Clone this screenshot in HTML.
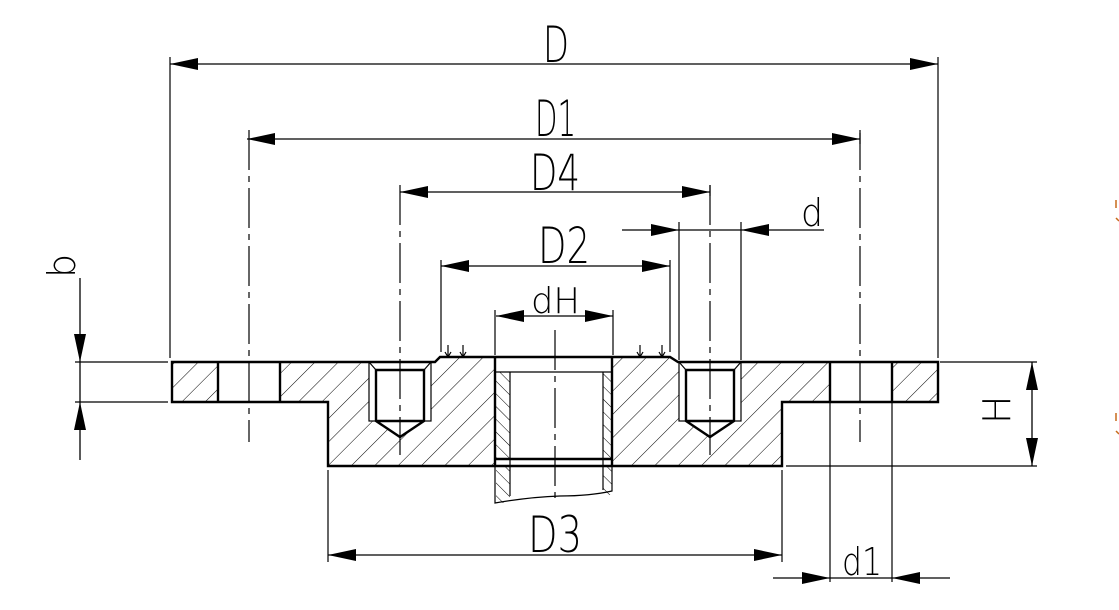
<!DOCTYPE html>
<html><head><meta charset="utf-8"><style>
html,body{margin:0;padding:0;background:#fff;width:1119px;height:610px;overflow:hidden}
svg text{font-family:"DejaVu Sans","Liberation Sans",sans-serif;font-weight:200;fill:#000}
</style></head><body>
<svg width="1119" height="610" viewBox="0 0 1119 610" xmlns="http://www.w3.org/2000/svg">
<defs>
<pattern id="h1" width="16.5" height="16.5" patternUnits="userSpaceOnUse" patternTransform="rotate(45)">
<line x1="0" y1="0" x2="0" y2="16.5" stroke="#000" stroke-width="1"/></pattern>
<pattern id="h2" width="9" height="9" patternUnits="userSpaceOnUse" patternTransform="rotate(-45)">
<line x1="0" y1="0" x2="0" y2="9" stroke="#000" stroke-width="1"/></pattern>
<marker id="a" viewBox="0 0 28 12" refX="28" refY="6" markerWidth="28" markerHeight="12" markerUnits="userSpaceOnUse" orient="auto-start-reverse">
<path d="M0,0 L28,6 L0,12 z" fill="#000"/></marker>
</defs>

<path d="M172,362 L435,362 L440,357 L670,357 L678,362 L938,362 L938,402 L782,402 L782,466 L328,466 L328,402 L172,402 Z" fill="url(#h1)"/>
<g fill="#fff">
<rect x="218" y="363" width="62" height="38"/>
<rect x="830" y="363" width="62" height="38"/>
<rect x="369" y="363" width="62" height="58"/>
<path d="M376,421 L400,437 L424,421Z"/>
<rect x="679" y="363" width="62" height="58"/>
<path d="M686,421 L710,437 L734,421Z"/>
<rect x="495" y="358" width="117" height="107"/>
</g>
<rect x="496" y="372" width="14" height="86" fill="url(#h2)"/>
<rect x="603" y="372" width="9" height="86" fill="url(#h2)"/>
<rect x="496" y="467" width="14" height="36" fill="url(#h2)"/>
<rect x="603" y="467" width="9" height="28" fill="url(#h2)"/>

<g stroke="#000" fill="none" stroke-width="2.4">
<path d="M172,362 L435,362 L440,357 L670,357 L678,362 L938,362 L938,402 L782,402 L782,466 L328,466 L328,402 L172,402 Z"/>
<line x1="218" y1="362" x2="218" y2="402"/><line x1="280" y1="362" x2="280" y2="402"/>
<line x1="830" y1="362" x2="830" y2="402"/><line x1="892" y1="362" x2="892" y2="402"/>
<path d="M376,370 L424,370 L424,421 L400,437 L376,421 Z M376,421 L424,421"/>
<path d="M686,370 L734,370 L734,421 L710,437 L686,421 Z M686,421 L734,421"/>
<line x1="495" y1="357" x2="495" y2="466"/><line x1="612" y1="357" x2="612" y2="466"/>
<line x1="495" y1="459" x2="612" y2="459"/>
</g>
<g stroke="#000" fill="none" stroke-width="1.2">
<rect x="369" y="362" width="62" height="59"/>
<rect x="679" y="362" width="62" height="59"/>
<line x1="369" y1="362" x2="376" y2="370"/><line x1="431" y1="362" x2="424" y2="370"/>
<line x1="679" y1="362" x2="686" y2="370"/><line x1="741" y1="362" x2="734" y2="370"/>
<line x1="510" y1="372" x2="510" y2="496"/><line x1="603" y1="372" x2="603" y2="490"/>
<line x1="495" y1="372" x2="612" y2="372"/>
<line x1="490" y1="466" x2="617" y2="466"/>
<path d="M495,466 L495,503 Q530,497 560,496 Q590,496 612,491 L612,466"/>
<path d="M448,345 L448,357 M445,352 L448,357 L451,352 M463,345 L463,357 M460,352 L463,357 L466,352"/>
<path d="M640,345 L640,357 M637,352 L640,357 L643,352 M662,345 L662,357 M659,352 L662,357 L665,352"/>
</g>

<g stroke="#000" stroke-width="1.2" fill="none" stroke-dasharray="40,6,6,6">
<line x1="249" y1="130" x2="249" y2="442"/>
<line x1="860" y1="130" x2="860" y2="442"/>
<line x1="400" y1="185" x2="400" y2="455"/>
<line x1="710" y1="185" x2="710" y2="455"/>
<line x1="555" y1="330" x2="555" y2="498"/>
</g>

<g stroke="#000" stroke-width="1.2" fill="none">
<line x1="170" y1="57" x2="170" y2="358"/><line x1="938" y1="57" x2="938" y2="358"/>
<line x1="441" y1="260" x2="441" y2="352"/><line x1="670" y1="260" x2="670" y2="352"/>
<line x1="495" y1="310" x2="495" y2="355"/><line x1="613" y1="310" x2="613" y2="355"/>
<line x1="679" y1="222" x2="679" y2="360"/><line x1="741" y1="222" x2="741" y2="360"/>
<line x1="328" y1="470" x2="328" y2="562"/><line x1="782" y1="470" x2="782" y2="562"/>
<line x1="830" y1="402" x2="830" y2="582"/><line x1="892" y1="402" x2="892" y2="582"/>
<line x1="940" y1="362" x2="1037" y2="362"/><line x1="786" y1="466" x2="1037" y2="466"/>
<line x1="75" y1="362" x2="168" y2="362"/><line x1="75" y1="402" x2="168" y2="402"/>
<line x1="710" y1="185" x2="710" y2="196"/><line x1="860" y1="133" x2="860" y2="144"/>
</g>

<g stroke="#000" stroke-width="1.3" fill="none">
<line x1="170" y1="64" x2="938" y2="64" marker-start="url(#a)" marker-end="url(#a)"/>
<line x1="247" y1="139" x2="860" y2="139" marker-start="url(#a)" marker-end="url(#a)"/>
<line x1="400" y1="192" x2="710" y2="192" marker-start="url(#a)" marker-end="url(#a)"/>
<line x1="441" y1="266" x2="670" y2="266" marker-start="url(#a)" marker-end="url(#a)"/>
<line x1="496" y1="316" x2="613" y2="316" marker-start="url(#a)" marker-end="url(#a)"/>
<line x1="328" y1="555" x2="782" y2="555" marker-start="url(#a)" marker-end="url(#a)"/>
<line x1="1032" y1="362" x2="1032" y2="466" marker-start="url(#a)" marker-end="url(#a)"/>
<line x1="622" y1="230" x2="679" y2="230" marker-end="url(#a)"/>
<line x1="824" y1="230" x2="741" y2="230" marker-end="url(#a)"/>
<line x1="679" y1="230" x2="741" y2="230"/>
<line x1="773" y1="578" x2="830" y2="578" marker-end="url(#a)"/>
<line x1="950" y1="578" x2="892" y2="578" marker-end="url(#a)"/>
<line x1="830" y1="578" x2="892" y2="578"/>
<line x1="80" y1="278" x2="80" y2="362" marker-end="url(#a)"/>
<line x1="80" y1="460" x2="80" y2="402" marker-end="url(#a)"/>
<line x1="80" y1="362" x2="80" y2="402"/>
</g>

<text x="543" y="62" font-size="50" textLength="26" lengthAdjust="spacingAndGlyphs">D</text>
<text x="535" y="136" font-size="50" textLength="41" lengthAdjust="spacingAndGlyphs">D1</text>
<text x="530" y="190" font-size="50" textLength="50" lengthAdjust="spacingAndGlyphs">D4</text>
<text x="538" y="263" font-size="50" textLength="52" lengthAdjust="spacingAndGlyphs">D2</text>
<text x="531" y="313" font-size="36" textLength="49" lengthAdjust="spacingAndGlyphs">dH</text>
<text x="528" y="552" font-size="50" textLength="54" lengthAdjust="spacingAndGlyphs">D3</text>
<text x="801" y="226" font-size="38" textLength="22" lengthAdjust="spacingAndGlyphs">d</text>
<text x="842" y="575" font-size="38" textLength="40" lengthAdjust="spacingAndGlyphs">d1</text>
<text transform="translate(1010,424) rotate(-90)" font-size="38">H</text>
<text transform="translate(75,278) rotate(-90)" font-size="38">b</text>

<g stroke="#c76a1a" stroke-width="1.5" fill="none">
<path d="M1116,200 L1116,208 M1116,218 L1119,221"/>
<path d="M1116,413 L1116,421 M1116,431 L1119,434"/>
</g>
</svg>
</body></html>
